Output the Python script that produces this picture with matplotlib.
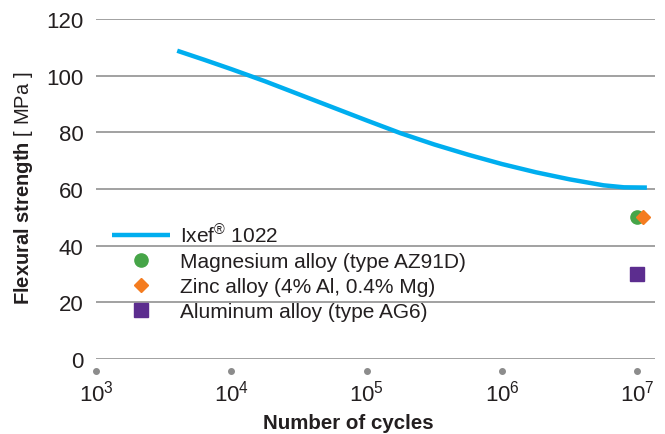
import numpy as np
import matplotlib
matplotlib.use("Agg")
import matplotlib.pyplot as plt

plt.rcParams['font.family'] = ['Liberation Sans', 'DejaVu Sans']
plt.rcParams['mathtext.fontset'] = 'custom'
plt.rcParams['mathtext.rm'] = 'Liberation Sans'
plt.rcParams['mathtext.bf'] = 'Liberation Sans:bold'
plt.rcParams['mathtext.it'] = 'Liberation Sans:italic'

# Ixef 1022 fatigue curve (log10 cycles, MPa)
ixef_logn = [3.60, 3.8, 4.0, 4.25, 4.5, 4.75, 5.0, 5.25, 5.5, 5.75,
             6.0, 6.25, 6.5, 6.75, 6.9, 7.07]
ixef_mpa = [108.8, 105.6, 102.3, 98.0, 93.4, 88.8, 84.2, 79.7, 75.7, 72.1,
            68.8, 65.9, 63.4, 61.3, 60.6, 60.5]

# alloys at 10^7 cycles
mg_n, mg_mpa = [1.0e7], [50]
zn_n, zn_mpa = [1.1e7], [50]
al_n, al_mpa = [1.0e7], [30]

xticks = [1e3, 1e4, 1e5, 1e6, 1e7]
yticks = [0, 20, 40, 60, 80, 100, 120]

txt = '#231f20'
fig = plt.figure(figsize=(6.65, 4.35), dpi=100)
ax = fig.add_axes([96/665, 1-360/435, 559/665, 340/435])

ax.plot(10**np.array(ixef_logn), ixef_mpa, color='#00aeef', lw=3.2,
        label='Ixef$^{®}$ 1022', solid_capstyle='butt', solid_joinstyle='round')
ax.plot(mg_n, mg_mpa, 'o', color='#46a548', ms=9.5, ls='none',
        label='Magnesium alloy (type AZ91D)')
ax.plot(zn_n, zn_mpa, 'D', color='#f47c20', ms=7, ls='none',
        label='Zinc alloy (4% Al, 0.4% Mg)')
ax.plot(al_n, al_mpa, 's', color='#5c2d8f', ms=10, ls='none',
        label='Aluminum alloy (type AG6)')

ax.set_xscale('log')
ax.set_xlim(1e3, 10**7.13)
ax.set_ylim(0, 120)
ax.set_xticks(xticks)
ax.minorticks_off()
ax.set_yticks(yticks)
ax.yaxis.grid(True, color='#9a9a9a', lw=1.3)
ax.set_axisbelow(True)
for s in ax.spines.values():
    s.set_visible(False)
ax.tick_params(axis='y', length=0, pad=9, labelsize=16, labelcolor=txt)
ax.tick_params(axis='x', length=0, pad=15, labelsize=16, labelcolor=txt)

# grey dots instead of x tick marks
ax.plot(xticks, [-4.4]*len(xticks), 'o', color='#8c8c8c', ms=4, clip_on=False)

ax.set_xlabel('Number of cycles', fontsize=14.8, fontweight='bold', color=txt)
ax.xaxis.set_label_coords((348-96)/559, -0.16)
ax.set_ylabel(r'$\bf{Flexural\ strength}$ [ MPa ]', fontsize=14.5, color=txt)
ax.yaxis.set_label_coords(-0.109, 0.506)

leg = ax.legend(loc='upper left', bbox_to_anchor=(0.01, 0.43), frameon=False,
                fontsize=15, handlelength=2.8, handletextpad=0.48,
                labelspacing=0.28, borderpad=0, labelcolor=txt)

fig.savefig('out.png', dpi=100)
